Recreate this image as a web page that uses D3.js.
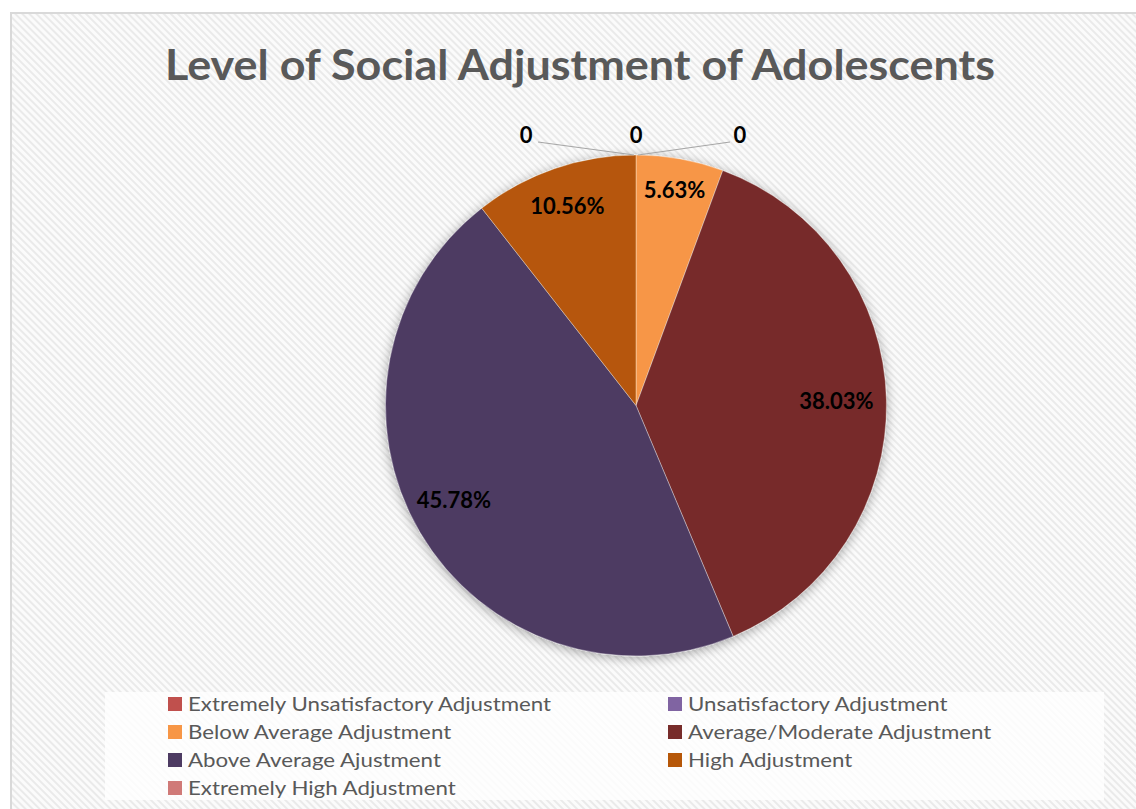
<!DOCTYPE html>
<html><head><meta charset="utf-8">
<script src="https://cdn.jsdelivr.net/npm/d3@7"></script>
<style>html,body{margin:0;padding:0;background:#fff}svg{display:block}</style>
</head><body>
<svg id="chart" width="1136" height="809"></svg>
<script>
// ---- data ----
const title = "Level of Social Adjustment of Adolescents";
const categories = [
  "Extremely Unsatisfactory Adjustment",
  "Unsatisfactory Adjustment",
  "Below Average Adjustment",
  "Average/Moderate Adjustment",
  "Above Average Ajustment",
  "High Adjustment",
  "Extremely High Adjustment"
];
const values = [0, 0, 5.63, 38.03, 45.78, 10.56, 0];
const colors = ["#c0504d", "#8064a2", "#f79646", "#772c2a", "#4d3b62", "#b65708", "#d07a78"];

// ---- layout (styles/positions) ----
const cx = 636, cy = 405.5, R = 250.5;
const labelRadius = [0.8, 0.8, 0.875, 0.80, 0.82, 0.84, 0.8];
const labelAngleShift = [0, 0, 0, 0, 0.05, 0, 0];
const zeroOffsets = {0: [0, -20], 1: [104, -20], 6: [-110, -20]};

const svg = d3.select("#chart");
const defs = svg.append("defs");
const pat = defs.append("pattern").attr("id", "stripes").attr("patternUnits", "userSpaceOnUse")
  .attr("width", 5).attr("height", 5).attr("patternTransform", "rotate(-45)");
pat.append("rect").attr("width", 5).attr("height", 5).attr("fill", "#fbfbfb");
pat.append("rect").attr("width", 2).attr("height", 5).attr("fill", "#eaeaea");

const flt = defs.append("filter").attr("id", "shadow").attr("x", "-20%").attr("y", "-20%").attr("width", "140%").attr("height", "140%");
flt.append("feGaussianBlur").attr("in", "SourceAlpha").attr("stdDeviation", 6).attr("result", "b");
flt.append("feOffset").attr("in", "b").attr("dx", 0).attr("dy", 2).attr("result", "o");
flt.append("feComponentTransfer").attr("in", "o").attr("result", "s")
  .append("feFuncA").attr("type", "linear").attr("slope", 0.35);
const fm = flt.append("feMerge");
fm.append("feMergeNode").attr("in", "s");
fm.append("feMergeNode").attr("in", "SourceGraphic");

// chart area
svg.append("rect").attr("x", 11).attr("y", 13).attr("width", 1200).attr("height", 900)
  .attr("fill", "url(#stripes)").attr("stroke", "#d9d9d9").attr("stroke-width", 2);

// title
const titleEl = svg.append("text").attr("x", 580).attr("y", 80).attr("text-anchor", "middle")
  .attr("font-family", "Lato, 'Open Sans', sans-serif").attr("font-weight", 700)
  .attr("font-size", 42).attr("fill", "#595959").text(title);
titleEl.attr("textLength", 830).attr("lengthAdjust", "spacingAndGlyphs");

// pie
const data = categories.map((c, i) => ({cat: c, value: values[i], color: colors[i], i}));
const pie = d3.pie().value(d => d.value).sort(null);
const arcs = pie(data);
const arc = d3.arc().innerRadius(0).outerRadius(R);
const g = svg.append("g").attr("transform", `translate(${cx},${cy})`);
const pieG = g.append("g").attr("filter", "url(#shadow)");
pieG.selectAll("path").data(arcs.filter(a => a.data.value > 0)).join("path")
  .attr("d", arc).attr("fill", d => d.data.color)
  .attr("stroke", "rgba(255,255,255,0.45)").attr("stroke-width", 0.8);

const lblFont = "Lato, 'Open Sans', sans-serif";
// labels
arcs.forEach(a => {
  const i = a.data.i;
  if (a.data.value > 0) {
    const r = R * labelRadius[i];
    const mid = (a.startAngle + a.endAngle) / 2 + labelAngleShift[i];
    const x = r * Math.sin(mid), y = -r * Math.cos(mid);
    g.append("text").attr("x", x).attr("y", y).attr("dy", "0.36em").attr("text-anchor", "middle")
      .attr("font-family", lblFont).attr("font-weight", 700)
      .attr("font-size", 22).attr("fill", "#000").text(d3.format(".2f")(a.data.value) + "%");
  } else {
    const ang = a.startAngle;
    const px = R * Math.sin(ang), py = -R * Math.cos(ang);
    const off = zeroOffsets[i] || [0, -20];
    const lx = px + off[0], ly = py + off[1];
    if (Math.abs(off[0]) > 20) {
      const sx = off[0] < 0 ? lx + 12 : lx - 10;
      g.append("path").attr("d", d3.line()([[sx, ly + 7], [px + (off[0] < 0 ? -2 : 2), py]]))
        .attr("stroke", "#a6a6a6").attr("stroke-width", 1.2).attr("fill", "none");
    }
    g.append("text").attr("x", lx).attr("y", ly).attr("dy", "0.36em").attr("text-anchor", "middle")
      .attr("font-family", lblFont).attr("font-weight", 700)
      .attr("font-size", 22).attr("fill", "#000").text(a.data.value);
  }
});

// legend
svg.append("rect").attr("x", 105).attr("y", 692).attr("width", 999).attr("height", 108)
  .attr("fill", "#ffffff").attr("fill-opacity", 0.8);
const colX = [168, 668];
const rowY = [704, 732, 760, 788];
const lg = svg.append("g");
const texts = [];
data.forEach((d, k) => {
  const col = k % 2, row = Math.floor(k / 2);
  lg.append("rect").attr("x", colX[col]).attr("y", rowY[row] - 7).attr("width", 14).attr("height", 14)
    .attr("fill", d.color);
  const t = lg.append("text").attr("x", colX[col] + 20).attr("y", rowY[row] + 7)
    .attr("font-family", "Lato, 'Open Sans', sans-serif").attr("font-size", 19)
    .attr("fill", "#595959").text(d.cat);
  texts.push(t);
});
const w0 = texts[0].node().getComputedTextLength();
const k = 363 / w0;
texts.forEach(t => {
  const w = t.node().getComputedTextLength();
  t.attr("textLength", w * k).attr("lengthAdjust", "spacingAndGlyphs");
});
</script>
</body></html>
